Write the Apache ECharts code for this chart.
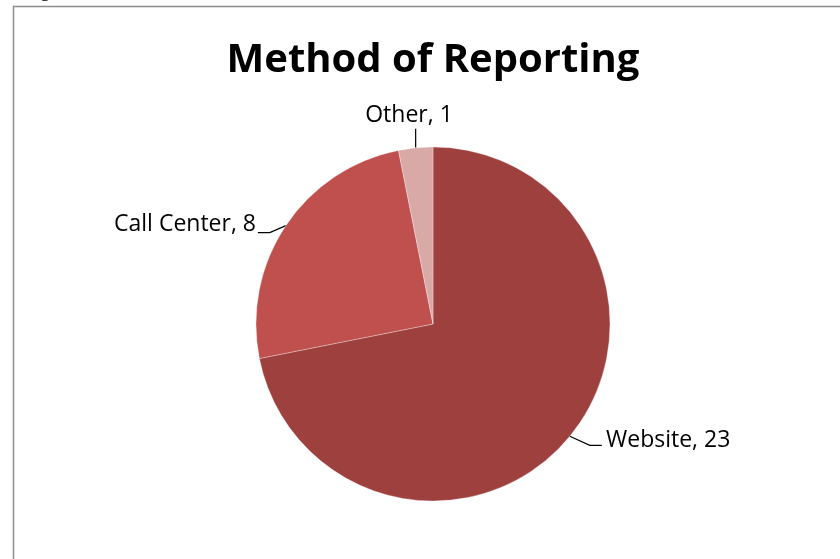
<!DOCTYPE html>
<html><head><meta charset="utf-8">
<script src="https://cdn.jsdelivr.net/npm/echarts@6/dist/echarts.min.js"></script>
<style>html,body{margin:0;padding:0;background:#fff}#c{width:840px;height:559px}</style>
</head><body><div id="c"></div>
<script>
var categories = ['Website', 'Call Center', 'Other'];
var values = [23, 8, 1];
var colors = ['#9E413E', '#C0504D', '#D9A9A8'];
var titleText = 'Method of Reporting';

var labelPos = {
  'Website': {x: 606, y: 440, align: 'left'},
  'Call Center': {x: 256, y: 224, align: 'right'},
  'Other': {x: 409, y: 115, align: 'center'}
};
var leaderBends = {
  'Website': [[20, 9], [32, 9]],
  'Call Center': [[-16, 7], [-28, 7]],
  'Other': [[0, -9], [0, -19]]
};

var chart = echarts.init(document.getElementById('c'), null, {renderer: 'canvas'});
chart.setOption({
  animation: false,
  backgroundColor: '#fff',
  title: {
    text: titleText, left: 428, top: 36, textAlign: 'center',
    textStyle: {fontFamily: 'Open Sans', fontWeight: 'bold', fontSize: 40, color: '#000'}
  },
  graphic: [
    {type: 'rect', shape: {x: 13.5, y: 6.5, width: 900, height: 600}, style: {fill: 'none', stroke: '#8c8c8c', lineWidth: 1.5}, silent: true},
    {type: 'text', left: 40, top: -19, style: {text: 'g', font: '20px "Liberation Serif"', fill: '#000'}}
  ],
  series: [{
    type: 'pie',
    center: [433, 324],
    radius: [0, 177],
    startAngle: 90,
    clockwise: true,
    data: categories.map(function (c, i) { return {name: c, value: values[i], itemStyle: {color: colors[i]}}; }),
    itemStyle: {borderColor: 'rgba(255,255,255,0.5)', borderWidth: 0.6},
    label: {
      show: true, formatter: '{b}, {c}', color: '#000',
      fontFamily: 'Open Sans', fontSize: 23
    },
    labelLine: {show: true, length: 15, length2: 12, lineStyle: {color: '#000', width: 1.2}},
    labelLayout: function (p) {
      var name = categories[p.dataIndex];
      var lp = labelPos[name];
      var p0 = p.labelLinePoints ? p.labelLinePoints[0] : null;
      var res = {x: lp.x, y: lp.y, align: lp.align, verticalAlign: 'middle'};
      if (p0) {
        var b = leaderBends[name];
        res.labelLinePoints = [
          [p0[0], p0[1]],
          [p0[0] + b[0][0], p0[1] + b[0][1]],
          [p0[0] + b[1][0], p0[1] + b[1][1]]
        ];
      }
      return res;
    }
  }]
});
</script></body></html>
